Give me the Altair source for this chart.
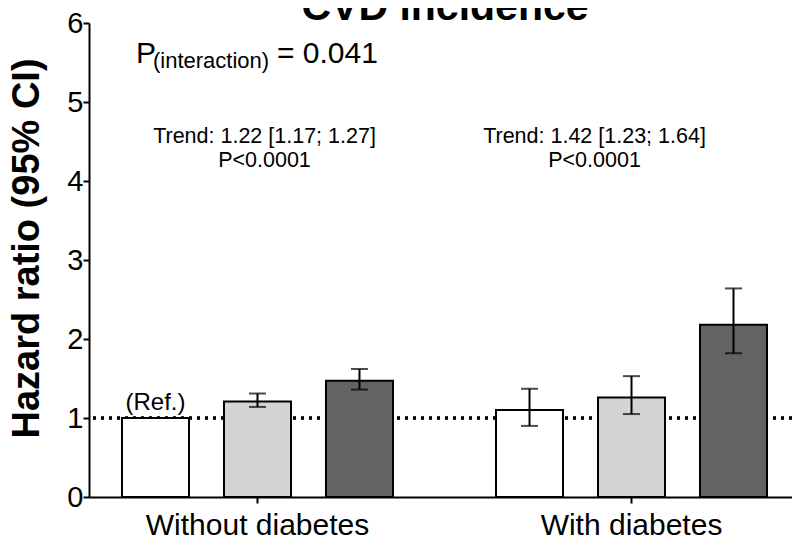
import altair as alt
import pandas as pd

# ---- data ----
groups = ["Without diabetes", "Without diabetes", "Without diabetes",
          "With diabetes", "With diabetes", "With diabetes"]
levels = ["T1", "T2", "T3", "T1", "T2", "T3"]
hr = [1.00, 1.21, 1.47, 1.10, 1.26, 2.18]
ci_lo = [None, 1.14, 1.36, 0.90, 1.05, 1.82]
ci_hi = [None, 1.31, 1.62, 1.37, 1.53, 2.64]

group_order = ["Without diabetes", "With diabetes"]
level_order = ["T1", "T2", "T3"]
level_colors = ["#ffffff", "#d4d4d4", "#636363"]

trend_group = ["Without diabetes", "With diabetes"]
trend_line1 = ["Trend: 1.22 [1.17; 1.27]", "Trend: 1.42 [1.23; 1.64]"]
trend_line2 = ["P<0.0001", "P<0.0001"]

FONT = "Liberation Sans"

df = pd.DataFrame({"group": groups, "level": levels, "hr": hr,
                   "lo": ci_lo, "hi": ci_hi})
df_err = df.dropna()

X = alt.X("group:N", sort=group_order, title=None,
          scale=alt.Scale(domain=group_order, paddingInner=0.099, paddingOuter=0.0,
                          range=[0, 711]),
          axis=alt.Axis(labelFont=FONT, labelFontSize=30, labelColor="black", labelLimit=0,
                        labelAngle=0, labelPadding=7, tickSize=6, tickWidth=2,
                        tickColor="black", domainColor="black", domainWidth=2))
XO = alt.XOffset("level:N", sort=level_order,
                 scale=alt.Scale(domain=level_order, paddingInner=0.343, paddingOuter=0.3235))
Y = alt.Y("hr:Q", scale=alt.Scale(domain=[0, 6], nice=False, zero=True),
          axis=alt.Axis(title="Hazard ratio (95% CI)", titleFont=FONT, titleFontSize=38,
                        titleFontWeight="bold", titleColor="black",
                        titleAngle=270, titleAlign="center", titleBaseline="alphabetic",
                        titleX=-51, titleY=225,
                        values=[i * 0.25 for i in range(25)],
                        labelExpr="datum.value % 1 === 0 ? format(datum.value, 'd') : ''",
                        labelFont=FONT, labelFontSize=29, labelColor="black", labelPadding=0,
                        tickSize={"condition": {"test": "datum.value % 1 === 0", "value": 6},
                                  "value": 4},
                        tickWidth=2, tickColor="black", domainColor="black", domainWidth=2))

base = alt.Chart(df)

ref_line = alt.Chart(df).mark_rule(color="black", strokeWidth=2.5, strokeDash=[3, 5]).encode(
    y=alt.datum(1)
)

bars = base.mark_bar(stroke="black", strokeWidth=2).encode(
    x=X, xOffset=XO, y=Y,
    fill=alt.Fill("level:N", scale=alt.Scale(domain=level_order, range=level_colors), legend=None),
)

err_rule = alt.Chart(df_err).mark_rule(color="black", strokeWidth=2).encode(
    x=X, xOffset=XO, y=alt.Y("lo:Q"), y2="hi:Q")
cap_lo = alt.Chart(df_err).mark_tick(color="black", size=17, thickness=2).encode(
    x=X, xOffset=XO, y=alt.Y("lo:Q"))
cap_hi = alt.Chart(df_err).mark_tick(color="black", size=17, thickness=2).encode(
    x=X, xOffset=XO, y=alt.Y("hi:Q"))

ref_text = alt.Chart(df[df["level"] == "T1"].head(1)).mark_text(
    text="(Ref.)", font=FONT, fontSize=24, dy=-8, baseline="alphabetic", color="black"
).encode(x=X, xOffset=XO, y=alt.Y("hr:Q"))

tr = pd.DataFrame({"group": trend_group, "l1": trend_line1, "l2": trend_line2,
                   "y1": [4.48, 4.48], "y2": [4.18, 4.18]})
trend_texts = []
for g, dx in zip(trend_group, [7, -37]):
    sub = tr[tr["group"] == g]
    trend_texts.append(alt.Chart(sub).mark_text(font=FONT, fontSize=21.5, dx=dx,
                                                baseline="alphabetic", color="black").encode(
        x=X, y=alt.Y("y1:Q"), text="l1:N"))
    trend_texts.append(alt.Chart(sub).mark_text(font=FONT, fontSize=21.5, dx=dx,
                                                baseline="alphabetic", color="black").encode(
        x=X, y=alt.Y("y2:Q"), text="l2:N"))

p_main = alt.Chart(df.head(1)).mark_text(text="P", font=FONT, fontSize=30, align="left",
                                         baseline="alphabetic", color="black").encode(
    x=alt.value(47), y=alt.datum(5.49))
p_sub = alt.Chart(df.head(1)).mark_text(text="(interaction)", font=FONT, fontSize=22, align="left",
                                        baseline="alphabetic", dy=5, color="black").encode(
    x=alt.value(64), y=alt.datum(5.49))
p_val = alt.Chart(df.head(1)).mark_text(text="= 0.041", font=FONT, fontSize=30, align="left",
                                        baseline="alphabetic", color="black").encode(
    x=alt.value(188), y=alt.datum(5.49))

title = alt.Chart(df.head(1)).mark_text(text="CVD incidence", font=FONT, fontSize=41,
                                        fontWeight="bold", align="center",
                                        baseline="alphabetic", color="black").encode(
    x=alt.value(356), y=alt.value(-3))

chart = alt.layer(ref_line, bars, err_rule, cap_lo, cap_hi, ref_text, *trend_texts,
                  p_main, p_sub, p_val, title).properties(
    width=703, height=474,
    autosize=alt.AutoSizeParams(type="none"),
    padding={"left": 81, "top": 15, "right": 0, "bottom": 42},
).configure_view(stroke=None).configure_axis(grid=False)

chart.save("out.html", embed_options={"renderer": "svg", "actions": False})
